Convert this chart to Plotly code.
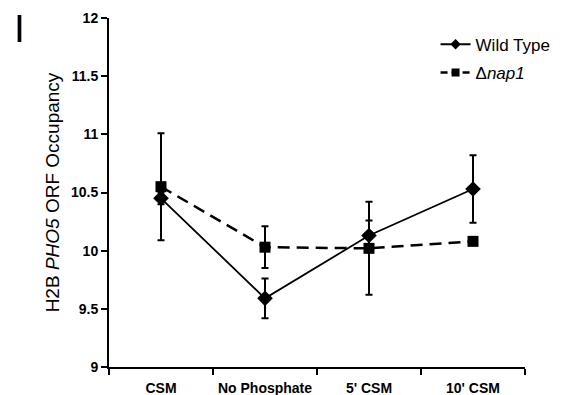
import plotly.graph_objects as go

categories = ["CSM", "No Phosphate", "5' CSM", "10' CSM"]
wt_values = [10.45, 9.59, 10.13, 10.53]
wt_errors = [0.05, 0.17, 0.13, 0.29]
nap1_values = [10.55, 10.03, 10.02, 10.08]
nap1_errors = [0.46, 0.18, 0.40, 0.0]
y_ticks = [9, 9.5, 10, 10.5, 11, 11.5, 12]

FONT = "Liberation Sans, Arial, sans-serif"

fig = go.Figure()
fig.add_trace(go.Scatter(
    x=categories, y=wt_values, name="Wild Type", mode="lines+markers",
    line=dict(color="black", width=1.8),
    marker=dict(symbol="diamond", size=12, color="black"),
    error_y=dict(type="data", array=wt_errors, visible=True, color="black",
                 thickness=2, width=3.5),
    showlegend=False,
))
fig.add_trace(go.Scatter(
    x=categories, y=nap1_values, name="Δ<i>nap1</i>", mode="lines+markers",
    line=dict(color="black", width=2.5, dash="12px,7px"),
    marker=dict(symbol="square", size=11, color="black"),
    error_y=dict(type="data", array=nap1_errors, visible=True, color="black",
                 thickness=2, width=3.5),
    showlegend=False,
))
# legend-only entries (smaller symbols, as in the reference legend)
fig.add_trace(go.Scatter(
    x=[None], y=[None], name="Wild Type", mode="lines+markers",
    line=dict(color="black", width=2),
    marker=dict(symbol="diamond", size=8, color="black"),
    legendgroup="a",
))
fig.add_trace(go.Scatter(
    x=[None], y=[None], name="Δ<i>nap1</i>", mode="lines+markers",
    line=dict(color="black", width=2.5, dash="7px,4px"),
    marker=dict(symbol="square", size=8, color="black"),
    legendgroup="b",
))

fig.update_layout(
    width=561, height=395,
    margin=dict(l=101, r=44, t=10, b=36, autoexpand=False),
    paper_bgcolor="white", plot_bgcolor="white",
    font=dict(family=FONT, color="black"),
    showlegend=True,
    legend=dict(x=0.785, y=0.975, xanchor="left", yanchor="top",
                font=dict(size=17, family=FONT), bgcolor="rgba(0,0,0,0)",
                tracegroupgap=3),
    xaxis=dict(
        type="category", tickson="boundaries", ticks="outside", ticklen=6,
        tickwidth=2, tickcolor="black", showline=True, linecolor="black",
        linewidth=2, showgrid=False, zeroline=False, tickangle=0,
        automargin=False,
        tickfont=dict(size=14, family=FONT, weight="bold"),
        ticklabelstandoff=7,
        range=[-0.5, 3.5],
    ),
    yaxis=dict(
        range=[9, 12], tickvals=y_ticks,
        ticktext=[("%g" % v) for v in y_ticks],
        ticks="outside", ticklen=6, tickwidth=2, tickcolor="black",
        showline=True, linecolor="black", linewidth=2, showgrid=False,
        zeroline=False, automargin=False,
        tickfont=dict(size=14, family=FONT, weight="bold"),
        title=dict(text="H2B <i>PHO5</i> ORF Occupancy",
                   font=dict(size=19, family=FONT), standoff=6),
    ),
    annotations=[dict(
        text="I", xref="paper", yref="paper", x=-0.214, y=0.969,
        xanchor="center", yanchor="middle", showarrow=False,
        font=dict(size=39, family=FONT, color="black"),
    )],
)

fig.write_html("out.html")
